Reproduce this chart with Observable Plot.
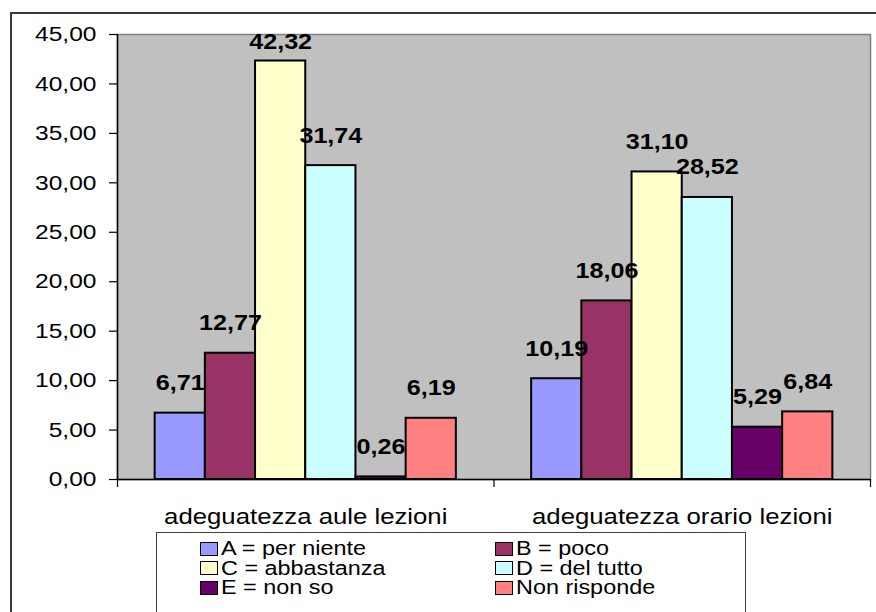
<!DOCTYPE html>
<html>
<head>
<meta charset="utf-8">
<script src="https://cdn.jsdelivr.net/npm/d3@7"></script>
<script src="https://cdn.jsdelivr.net/npm/@observablehq/plot@0.6"></script>
<style>
  html, body { margin: 0; padding: 0; background: #fff; overflow: hidden; }
  body { width: 876px; height: 612px; position: relative; font-family: "Liberation Sans", Arial, sans-serif; }
  #outer { position: absolute; left: 10px; top: 12px; width: 900px; height: 700px; border: 2px solid #3a3a3a; box-sizing: border-box; }
  #chart { position: absolute; left: 0; top: 0; }
  #legend { position: absolute; left: 156px; top: 532px; width: 590px; height: 120px; border: 1.5px solid #404040; box-sizing: border-box;
            display: grid; grid-template-columns: 295px 200px; grid-auto-rows: 19.5px; align-content: start;
            padding: 6px 0 0 43px; }
  .item { display: flex; align-items: center; font-size: 20px; line-height: 19.5px; height: 19.5px; color: #000; white-space: nowrap; }
  .sw { width: 16px; height: 12px; border: 1.5px solid #000; margin-right: 3px; flex: none; }
  .lt { display: inline-block; transform: scaleX(1.17); transform-origin: left center; }
</style>
</head>
<body>
<div id="outer"></div>
<div id="chart"></div>
<div id="legend"></div>
<script>
const groups = ["adeguatezza aule lezioni", "adeguatezza orario lezioni"];
const series = ["A = per niente", "B = poco", "C = abbastanza", "D = del tutto", "E = non so", "Non risponde"];
const auleValues = [6.71, 12.77, 42.32, 31.74, 0.26, 6.19];
const orarioValues = [10.19, 18.06, 31.10, 28.52, 5.29, 6.84];
const colors = ["#9999FF", "#993366", "#FFFFCC", "#CCFFFF", "#660066", "#FF8080"];
const yTicks = [0, 5, 10, 15, 20, 25, 30, 35, 40, 45];

const valuesByGroup = [auleValues, orarioValues];
const rows = [];
groups.forEach((g, gi) => series.forEach((s, si) => rows.push({gi, si, group: g, series: s, value: valuesByGroup[gi][si]})));

const width = 876, height = 532, marginTop = 34, marginBottom = 53;
const yMax = 45;
const pxPerUnit = (height - marginTop - marginBottom) / yMax;
const labelGap = 30 / pxPerUnit;      // label centre sits ~30px above the bar top
const labelCap = yMax - 8 / pxPerUnit; // but stays inside the plot area, as in Excel

const pad = 0.1;
const bw = (1 - 2 * pad) / series.length;
const fmt = v => v.toFixed(2).replace(".", ",");
const font = "'Liberation Sans', Arial, sans-serif";

const chart = Plot.plot({
  width,
  height,
  marginLeft: 117,
  marginRight: 6,
  marginTop,
  marginBottom,
  style: {background: "transparent", overflow: "visible", fontFamily: font, color: "#000"},
  x: {domain: [0, groups.length], axis: null},
  y: {domain: [0, yMax], axis: null},
  color: {domain: series, range: colors},
  marks: [
    Plot.frame({fill: "#C0C0C0", stroke: "#808080", strokeWidth: 1.5}),
    Plot.axisY(yTicks, {label: null, tickSize: 8, tickPadding: 13, tickFormat: fmt, fontSize: 21, stroke: "#000", strokeWidth: 1.2}),
    Plot.axisX(d3.range(groups.length + 1), {label: null, tickSize: 8, tickFormat: () => "", stroke: "#000", strokeWidth: 1.2}),
    Plot.axisX(groups.map((g, i) => i + 0.5), {label: null, tickSize: 0, tickPadding: 29, tickFormat: v => groups[Math.floor(v)], fontSize: 22}),
    Plot.rectY(rows, {
      x1: d => d.gi + pad + d.si * bw,
      x2: d => d.gi + pad + (d.si + 1) * bw,
      y: "value",
      fill: "series",
      stroke: "#000",
      strokeWidth: 2
    }),
    Plot.ruleX([0], {stroke: "#000", strokeWidth: 1.5}),
    Plot.ruleY([0], {stroke: "#000", strokeWidth: 1.5}),
    Plot.text(rows, {
      x: d => d.gi + pad + (d.si + 0.5) * bw,
      y: d => Math.min(d.value + labelGap, labelCap),
      text: d => fmt(d.value),
      fontSize: 21.5,
      fontWeight: "bold",
      fill: "#000"
    })
  ]
});
document.getElementById("chart").appendChild(chart);

// the reference's lettering is horizontally widened: stretch each text about its own anchor
const stretch = 1.17;
d3.select(chart).selectAll("text").each(function() {
  const xa = this.getAttribute("x");
  let shift = "";
  if (xa != null && /^-?[\d.]+(e-?\d+)?$/.test(xa.trim())) {
    shift = ` translate(${xa},0)`;
    this.setAttribute("x", 0);
  }
  const t = this.getAttribute("transform") || "";
  this.setAttribute("transform", `${t}${shift} scale(${stretch},1)`);
});

const legend = document.getElementById("legend");
series.forEach((s, i) => {
  const item = document.createElement("div");
  item.className = "item";
  const sw = document.createElement("span");
  sw.className = "sw";
  sw.style.background = colors[i];
  item.appendChild(sw);
  const lt = document.createElement("span");
  lt.className = "lt";
  lt.textContent = s;
  item.appendChild(lt);
  legend.appendChild(item);
});
</script>
</body>
</html>
